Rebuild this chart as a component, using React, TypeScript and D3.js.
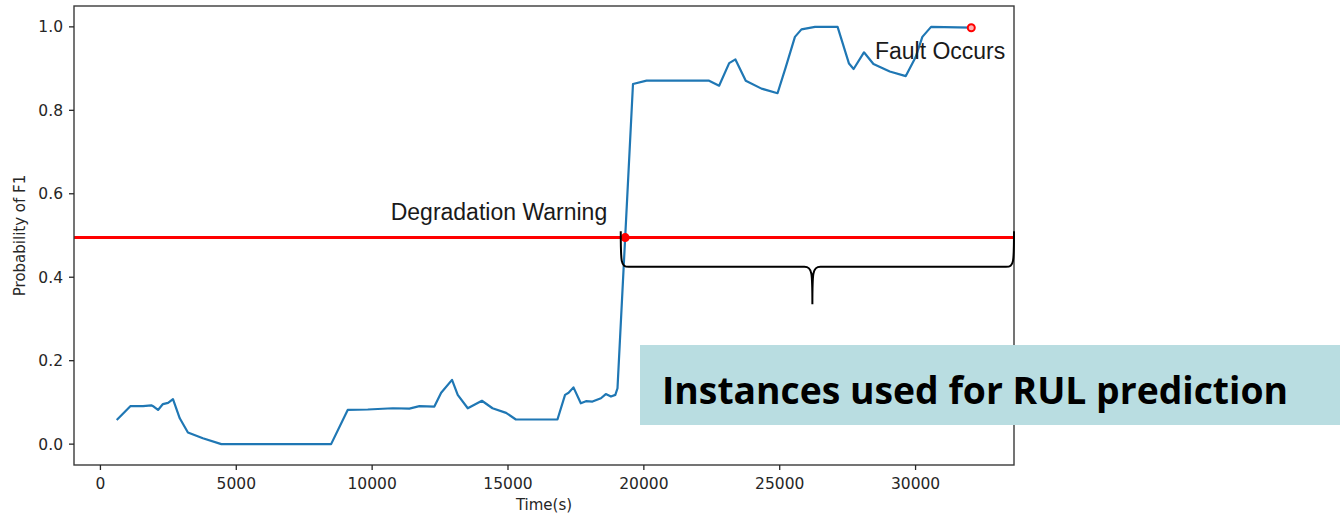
import * as d3 from 'd3'

// time (s) and probability of F1
const times = [
  600, 1100, 1570, 1870, 1960, 2120, 2300, 2490, 2670, 2920, 3220, 3770, 4450, 8490,
  9100, 9840, 10760, 11370, 11740, 12290, 12540, 12940, 13150, 13520, 14040, 14430,
  14930, 15290, 16820, 17100, 17230, 17410, 17680, 17870, 18110, 18420, 18600, 18790,
  18950, 19030, 19600, 20100, 22400, 22770, 23140, 23370, 23750, 24330, 24920, 25220,
  25560, 25800, 26300, 27130, 27550, 27720, 28100, 28450, 29050, 29640, 30000, 30250,
  30570, 32050,
]
const probs = [
  0.058, 0.091, 0.091, 0.093, 0.090, 0.082, 0.096, 0.099, 0.108, 0.062, 0.028, 0.014, 0.0, 0.0,
  0.082, 0.083, 0.086, 0.085, 0.091, 0.090, 0.123, 0.154, 0.118, 0.086, 0.104, 0.086,
  0.075, 0.059, 0.059, 0.118, 0.123, 0.136, 0.098, 0.103, 0.102, 0.110, 0.120, 0.114,
  0.118, 0.134, 0.863, 0.871, 0.871, 0.859, 0.913, 0.922, 0.871, 0.852, 0.841, 0.903,
  0.976, 0.994, 1.0, 1.0, 0.912, 0.899, 0.939, 0.911, 0.893, 0.882, 0.927, 0.976,
  1.0, 0.998,
]

const xTicks = [0, 5000, 10000, 15000, 20000, 25000, 30000]
const yTicks = [0.0, 0.2, 0.4, 0.6, 0.8, 1.0]

const threshold = 0.495
const warning = { t: 19313, p: 0.495, label: 'Degradation Warning' }
const fault = { t: 32050, p: 0.998, label: 'Fault Occurs' }
// curly brace under the threshold: from warning time to end of axis
const brace = { start: 19150, top: 0.51, mid: 0.425, tip: 0.335 }
const boxText = 'Instances used for RUL prediction'

const W = 1340
const H = 516
const margin = { top: 6, right: 326, bottom: 51, left: 74 }

const App = () => {
  const data = times.map((t, i) => ({ t, p: probs[i] }))

  const [tMin, tMax] = d3.extent(times) as [number, number]
  const tPad = (tMax - tMin) * 0.05
  const xScale = d3.scaleLinear()
    .domain([tMin - tPad, tMax + tPad])
    .range([margin.left, W - margin.right])
  const yScale = d3.scaleLinear()
    .domain([-0.05, 1.05])
    .range([H - margin.bottom, margin.top])

  const line = d3.line<{ t: number, p: number }>()
    .x(d => xScale(d.t))
    .y(d => yScale(d.p))

  const x0 = xScale.range()[0]
  const x1 = xScale.range()[1]
  const y0 = yScale.range()[0]
  const y1 = yScale.range()[1]

  // brace geometry
  const bl = xScale(brace.start)
  const br = x1
  const bm = (bl + br) / 2 - 5
  const bt = yScale(brace.top)
  const bh = yScale(brace.mid)
  const bp = yScale(brace.tip)
  const bracePath = [
    `M${bl},${bt}`,
    `C${bl},${bh - 4} ${bl},${bh} ${bl + 8},${bh}`,
    `L${bm - 8},${bh}`,
    `C${bm},${bh} ${bm},${bh + 6} ${bm},${bp}`,
    `C${bm},${bh + 6} ${bm},${bh} ${bm + 8},${bh}`,
    `L${br - 8},${bh}`,
    `C${br},${bh} ${br},${bh - 4} ${br},${bt}`,
  ].join(' ')

  const tickFont = { fontFamily: 'DejaVu Sans, sans-serif', fontSize: 15.5, fill: '#262626' }
  const noteFont = { fontFamily: 'Liberation Sans, Arial, sans-serif', fontSize: 23, fill: '#1a1a1a' }

  return (
    <svg width={W} height={H} style={{ position: 'absolute', left: 0, top: 0, background: '#fff' }}>
      {/* data line */}
      <path d={line(data) ?? ''} fill="none" stroke="#1f77b4" strokeWidth={2.2} strokeLinejoin="round" />

      {/* threshold */}
      <line x1={x0} x2={x1} y1={yScale(threshold)} y2={yScale(threshold)} stroke="#ff0000" strokeWidth={3} />

      {/* markers */}
      <circle cx={xScale(warning.t)} cy={yScale(warning.p)} r={4.5} fill="#ff0000" />
      <circle cx={xScale(fault.t)} cy={yScale(fault.p)} r={3.5} fill="#ffb0b0" stroke="#ff0000" strokeWidth={2} />

      {/* annotations */}
      <text x={xScale(warning.t) - 18} y={yScale(warning.p) - 18} textAnchor="end" style={noteFont}>{warning.label}</text>
      <text x={xScale(fault.t) + 34} y={yScale(fault.p) + 31} textAnchor="end" style={noteFont}>{fault.label}</text>

      {/* axes frame */}
      <rect x={x0} y={y1} width={x1 - x0} height={y0 - y1} fill="none" stroke="#3a3a3a" strokeWidth={1.4} />

      {/* x ticks */}
      {xTicks.map(t => (
        <g key={t} transform={`translate(${xScale(t)},${y0})`}>
          <line y1={0} y2={5} stroke="#262626" strokeWidth={1.3} />
          <text y={24} textAnchor="middle" style={tickFont}>{t}</text>
        </g>
      ))}
      {/* y ticks */}
      {yTicks.map(v => (
        <g key={v} transform={`translate(${x0},${yScale(v)})`}>
          <line x1={0} x2={-5} stroke="#262626" strokeWidth={1.3} />
          <text x={-11} dy="0.36em" textAnchor="end" style={tickFont}>{v.toFixed(1)}</text>
        </g>
      ))}

      <text x={(x0 + x1) / 2} y={H - 6} textAnchor="middle" style={{ ...tickFont, fontSize: 15 }}>Time(s)</text>
      <text transform={`translate(25,${(y0 + y1) / 2}) rotate(-90)`} textAnchor="middle" style={{ ...tickFont, fontSize: 15 }}>Probability of F1</text>

      {/* brace */}
      <path d={bracePath} fill="none" stroke="#000" strokeWidth={2} />

      {/* callout box */}
      <rect x={640} y={345} width={W - 640} height={80} fill="#b9dde1" />
      <text x={662} y={404} textLength={626} lengthAdjust="spacingAndGlyphs"
        style={{ fontFamily: 'Open Sans, Noto Sans, sans-serif', fontWeight: 700, fontSize: 38, fill: '#000' }}>
        {boxText}
      </text>
    </svg>
  )
}

export default App
